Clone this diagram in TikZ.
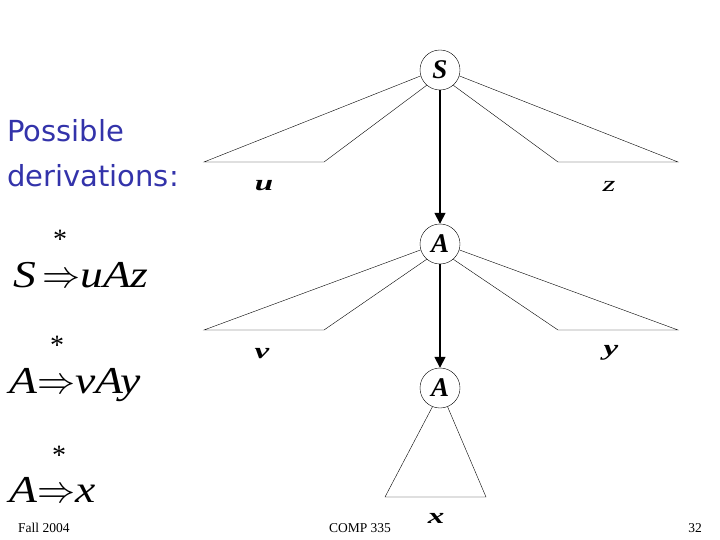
\RequirePackage{fix-cm}
\documentclass[tikz,border=0pt]{standalone}
\usepackage{fontspec}
\setmainfont{Liberation Serif}
\newfontfamily\slidefont{DejaVu Sans}
\usepackage{graphicx}
\usepackage{xcolor}
\usepackage{tikz}
\usetikzlibrary{calc, positioning, arrows.meta}

\definecolor{slideblue}{RGB}{51,51,170}

% chu nhan la hoi gian ngang nhu trong hinh goc
\newcommand{\wideleaf}[1]{\scalebox{1.5}[1]{#1}}
\newcommand{\widesym}[1]{\scalebox{1.2}[1]{#1}}

\begin{document}
\begin{tikzpicture}[>={Triangle[length=11pt,width=11pt]}, x=1pt, y=-1pt]

    % =================================================================
    % 0. KHUNG TRANG
    % =================================================================
    \useasboundingbox (0,0) rectangle (720,540);

    \tikzset{
        varnode/.style={draw, circle, minimum size=40pt, inner sep=0pt,
                        font=\fontsize{27}{27}\selectfont\bfseries\itshape},
        leaflabel/.style={inner sep=0pt, font=\fontsize{22}{22}\selectfont\bfseries\itshape},
        derivline/.style={anchor=base west, inner sep=0pt, text height=26pt,
                          font=\fontsize{38}{40}\selectfont\itshape},
        starmark/.style={anchor=north, inner sep=0pt, text height=19pt, text depth=0pt,
                         font=\fontsize{28}{28}\selectfont},
        footer/.style={anchor=base, inner sep=0pt, font=\fontsize{13.5}{14}\selectfont}
    }

    % =================================================================
    % 1. CAC NUT CUA CAY DAN XUAT
    % =================================================================
    \node[varnode] (S)  at (440,70)  {S};
    \node[varnode] (A1) at (440,244) {A};
    \node[varnode] (A2) at (440,388) {A};

    % Diem day cua cac hinh thang
    \coordinate (uL) at (204,162);
    \coordinate (uR) at (324,162);
    \coordinate (zL) at (558,162);
    \coordinate (zR) at (678,162);
    \coordinate (vL) at (204,330);
    \coordinate (vR) at (324,330);
    \coordinate (yL) at (558,330);
    \coordinate (yR) at (678,330);
    \coordinate (xL) at (385,497);
    \coordinate (xR) at (486,497);

    % =================================================================
    % 2. CAC CANH VA MUI TEN
    % =================================================================
    \draw[line width=1.6pt, ->] (S) -- (A1);
    \draw[line width=1.6pt, ->] (A1) -- (A2);

    \draw (S.197) -- (uL) -- (uR) -- (S.229);
    \draw (S.311) -- (zL) -- (zR) -- (S.343);
    \draw (A1.197) -- (vL) -- (vR) -- (A1.229);
    \draw (A1.311) -- (yL) -- (yR) -- (A1.343);
    \draw (A2.248) -- (xL) -- (xR) -- (A2.292);

    % Nhan cac chuoi con
    \node[leaflabel] (u) at (264,186) {\wideleaf{u}};
    \node[leaflabel] (z) at (609,186) {\wideleaf{\mdseries z}};
    \node[leaflabel] (v) at (262,354) {\wideleaf{v}};
    \node[leaflabel] (y) at (611,353) {\wideleaf{y}};
    \node[leaflabel] (x) at (436,518) {\wideleaf{x}};

    % =================================================================
    % 3. CAC DAN XUAT BEN TRAI
    % =================================================================
    \node[anchor=base west, inner sep=0pt, text=slideblue,
          font=\slidefont\fontsize{29}{29}\selectfont] (possible) at (7,142) {Possible};
    \node[anchor=base west, inner sep=0pt, text=slideblue,
          font=\slidefont\fontsize{29}{29}\selectfont] (deriv) at (7,187) {derivations:};

    \node[derivline] (d1) at (13,287) {\widesym{S}\,$\Rightarrow$\widesym{uAz}};
    \node[derivline] (d2) at (9,393)  {\widesym{A}$\Rightarrow$\widesym{vAy}};
    \node[derivline] (d3) at (9,502)  {\widesym{A}$\Rightarrow$\widesym{x}};
    \node[starmark] (st1) at (60,229) {*};
    \node[starmark] (st2) at (57,335) {*};
    \node[starmark] (st3) at (59,445) {*};

    % =================================================================
    % 4. CHAN TRANG
    % =================================================================
    \node[footer, anchor=base west] (fall) at (18,532) {Fall 2004};
    \node[footer] (course) at (360,532) {COMP 335};
    \node[footer, anchor=base east] (page) at (702,532) {32};

\end{tikzpicture}
\end{document}
